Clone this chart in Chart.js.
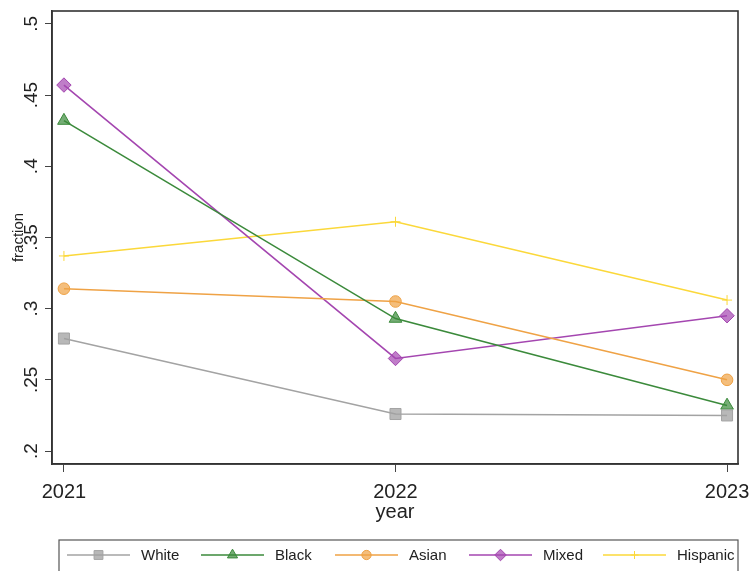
<!DOCTYPE html>
<html>
<head>
<meta charset="utf-8">
<title>fraction by year</title>
<script src="https://cdn.jsdelivr.net/npm/chart.js@4/dist/chart.umd.min.js"></script>
<style>
  html, body { margin: 0; padding: 0; background: #ffffff; }
  #wrap { width: 749px; height: 571px; position: relative; }
</style>
</head>
<body>
<div id="wrap"><canvas id="c"></canvas></div>
<script>
// Survey years and the fraction for each group
const years = [2021, 2022, 2023];
const white = [0.279, 0.226, 0.225];
const black = [0.432, 0.293, 0.232];
const asian = [0.314, 0.305, 0.250];
const mixed = [0.457, 0.265, 0.295];
const hispanic = [0.337, 0.361, 0.306];

// Axis ticks
const yTicks = [0.2, 0.25, 0.3, 0.35, 0.4, 0.45, 0.5];
const yTickLabels = ['.2', '.25', '.3', '.35', '.4', '.45', '.5'];
const xTicks = [2021, 2022, 2023];

const FONT = '"Liberation Sans", Arial, Helvetica, sans-serif';
const INK = '#222222';
const FRAME = '#333333';

function series(label, values, color, fill, pointStyle, radius) {
  return {
    label,
    data: years.map((y, i) => ({ x: y, y: values[i] })),
    borderColor: color,
    backgroundColor: fill,
    pointBorderColor: color,
    pointBackgroundColor: fill,
    pointStyle,
    pointRadius: radius,
    pointHoverRadius: radius,
    pointBorderWidth: 1,
    borderWidth: 1.6,
    tension: 0,
    fill: false
  };
}

const datasets = [
  series('White', white, '#a3a3a3', 'rgba(160,160,160,0.75)', 'rect', 7.8),
  series('Black', black, '#3b8a3b', 'rgba(59,138,59,0.7)', 'triangle', 7.3),
  series('Asian', asian, '#efa245', 'rgba(239,162,69,0.7)', 'circle', 5.8),
  series('Mixed', mixed, '#a446b0', 'rgba(164,70,176,0.7)', 'rectRot', 7.2),
  series('Hispanic', hispanic, '#fbd83a', 'rgba(251,216,58,0.8)', 'cross', 5)
];

// White page background
const background = {
  id: 'background',
  beforeDraw(chart) {
    const ctx = chart.ctx;
    ctx.save();
    ctx.fillStyle = '#ffffff';
    ctx.fillRect(0, 0, chart.width, chart.height);
    ctx.restore();
  }
};

// Box around the plot region plus the rotated y tick labels
const frameAndLabels = {
  id: 'frameAndLabels',
  afterDraw(chart) {
    const ctx = chart.ctx;
    const a = chart.chartArea;
    const ys = chart.scales.y;
    ctx.save();
    ctx.strokeStyle = FRAME;
    ctx.lineWidth = 1.6;
    ctx.strokeRect(a.left, a.top, a.right - a.left, a.bottom - a.top);

    ctx.fillStyle = INK;
    ctx.font = '19px ' + FONT;
    ctx.textAlign = 'center';
    ctx.textBaseline = 'middle';
    yTicks.forEach((v, i) => {
      const py = ys.getPixelForValue(v);
      ctx.save();
      ctx.translate(32, py);
      ctx.rotate(-Math.PI / 2);
      ctx.fillText(yTickLabels[i], 0, 0);
      ctx.restore();
    });
    ctx.restore();
  }
};

// Boxed legend along the bottom with line-and-marker keys
const boxLegend = {
  id: 'boxLegend',
  afterDraw(chart) {
    const ctx = chart.ctx;
    const boxL = 59, boxT = 540, boxR = 738, boxB = 585;
    const cy = 555;
    ctx.save();
    ctx.strokeStyle = '#555555';
    ctx.lineWidth = 1.2;
    ctx.strokeRect(boxL, boxT, boxR - boxL, boxB - boxT);
    ctx.font = '15px ' + FONT;
    ctx.textAlign = 'left';
    ctx.textBaseline = 'middle';
    chart.data.datasets.forEach((ds, i) => {
      const x0 = 67 + i * 134;
      const x1 = x0 + 63;
      ctx.strokeStyle = ds.borderColor;
      ctx.lineWidth = 1.6;
      ctx.beginPath();
      ctx.moveTo(x0, cy);
      ctx.lineTo(x1, cy);
      ctx.stroke();
      ctx.fillStyle = ds.pointBackgroundColor;
      ctx.strokeStyle = ds.pointBorderColor;
      ctx.lineWidth = 1;
      Chart.helpers.drawPoint(ctx, {
        pointStyle: ds.pointStyle,
        radius: ds.pointRadius * 0.8,
        rotation: 0,
        borderWidth: 1
      }, (x0 + x1) / 2, cy);
      ctx.fillStyle = INK;
      ctx.fillText(ds.label, x0 + 74, cy + 1);
    });
    ctx.restore();
  }
};

new Chart(document.getElementById('c'), {
  type: 'line',
  data: { datasets },
  plugins: [background, frameAndLabels, boxLegend],
  options: {
    responsive: true,
    maintainAspectRatio: false,
    animation: false,
    events: [],
    layout: { padding: { top: 11, right: 11, bottom: 47, left: 0 } },
    plugins: {
      legend: { display: false },
      tooltip: { enabled: false },
      title: { display: false }
    },
    scales: {
      x: {
        type: 'linear',
        min: 2020.964,
        max: 2023.033,
        afterBuildTicks(s) { s.ticks = xTicks.map(v => ({ value: v })); },
        afterFit(s) { s.height = 60; s.paddingLeft = 0; s.paddingRight = 0; },
        border: { display: true, color: FRAME, width: 1.6 },
        grid: { drawOnChartArea: false, drawTicks: true, tickLength: 8, color: '#444444', lineWidth: 1 },
        ticks: {
          color: INK,
          padding: 8,
          maxRotation: 0,
          font: { family: FONT, size: 20 },
          callback: v => String(v)
        },
        title: {
          display: true,
          text: 'year',
          color: INK,
          padding: { top: 0, bottom: 0 },
          font: { family: FONT, size: 20 }
        }
      },
      y: {
        type: 'linear',
        min: 0.1909,
        max: 0.509,
        afterBuildTicks(s) { s.ticks = yTicks.map(v => ({ value: v })); },
        afterFit(s) { s.width = 52; s.paddingTop = 0; s.paddingBottom = 0; },
        border: { display: true, color: FRAME, width: 1.6 },
        grid: { drawOnChartArea: false, drawTicks: true, tickLength: 7, color: '#444444', lineWidth: 1 },
        ticks: { display: false },
        title: {
          display: true,
          text: 'fraction',
          color: INK,
          padding: { top: 10, bottom: 0 },
          font: { family: FONT, size: 15 }
        }
      }
    }
  }
});
</script>
</body>
</html>
